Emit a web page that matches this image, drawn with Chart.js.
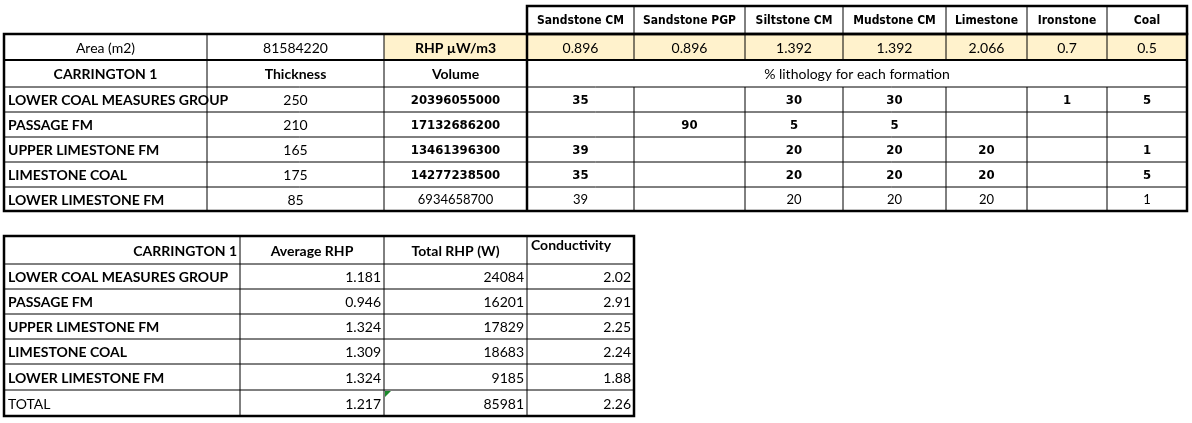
<!DOCTYPE html>
<html><head><meta charset="utf-8">
<script src="https://cdn.jsdelivr.net/npm/chart.js@4"></script>
<style>html,body{margin:0;padding:0;background:#fff}#w{width:1192px;height:423px}</style>
</head><body><div id="w"><canvas id="c"></canvas></div>
<script>
// ---- data ----
const formations = ["LOWER COAL MEASURES GROUP","PASSAGE FM","UPPER LIMESTONE FM","LIMESTONE COAL","LOWER LIMESTONE FM"];
const thickness = [250,210,165,175,85];
const volume = ["20396055000","17132686200","13461396300","14277238500","6934658700"];
const lithologies = ["Sandstone CM","Sandstone PGP","Siltstone CM","Mudstone CM","Limestone","Ironstone","Coal"];
const lithRHP = ["0.896","0.896","1.392","1.392","2.066","0.7","0.5"];
const lithPct = [
  ["35","","30","30","","1","5"],
  ["","90","5","5","","",""],
  ["39","","20","20","20","","1"],
  ["35","","20","20","20","","5"],
  ["39","","20","20","20","","1"]
];
const area = "81584220";
const avgRHP = ["1.181","0.946","1.324","1.309","1.324"];
const totalRHP = ["24084","16201","17829","18683","9185"];
const conductivity = ["2.02","2.91","2.25","2.24","1.88"];
const totals = ["1.217","85981","2.26"];

// ---- layout (grid coordinates in the scale's units) ----
const topCols = [4,207,384,527,634,745,843,946,1027,1107,1187];
const topRows = [6,34,60,87,112,137,162,187,211];
const botCols = [4,240,384,527,634];
const botRows = [236,264,289,314,339,364,390,416];
const COND = '"DejaVu Sans Condensed","Liberation Sans Narrow",Lato,sans-serif';
const BASE = 'Lato,"Open Sans",Arial,sans-serif';

const tablePlugin = {
  id:'tables',
  afterDraw(chart){
    const ctx = chart.ctx, X=v=>chart.scales.x.getPixelForValue(v), Y=v=>chart.scales.y.getPixelForValue(v);
    function fill(x0,y0,x1,y1,c){ctx.fillStyle=c;ctx.fillRect(X(x0),Y(y0),X(x1)-X(x0),Y(y1)-Y(y0));}
    function line(x0,y0,x1,y1,w){ctx.strokeStyle='#000';ctx.lineWidth=w;ctx.beginPath();ctx.moveTo(X(x0),Y(y0));ctx.lineTo(X(x1),Y(y1));ctx.stroke();}
    function box(x0,y0,x1,y1,w){ctx.strokeStyle='#000';ctx.lineWidth=w;ctx.strokeRect(X(x0),Y(y0),X(x1)-X(x0),Y(y1)-Y(y0));}
    function text(s,x0,x1,y0,y1,align,bold,size,family,vpos){
      ctx.fillStyle='#000';ctx.font=(bold?'bold ':'')+(size||14)+'px '+(family||BASE);
      ctx.textBaseline='middle';let x;
      if(align==='left'){ctx.textAlign='left';x=X(x0)+4;}
      else if(align==='right'){ctx.textAlign='right';x=X(x1)-3;}
      else {ctx.textAlign='center';x=(X(x0)+X(x1))/2;}
      const y = vpos==='top' ? Y(y0)+9 : (Y(y0)+Y(y1))/2+1;
      ctx.fillText(s,x,y);
    }
    // ---- top table ----
    fill(384,34,1187,60,'#FFF2CC');
    for(let r=1;r<topRows.length;r++) line(4,topRows[r],1187,topRows[r],1);
    line(527,topRows[0],1187,topRows[0],1);
    for(let c=0;c<topCols.length;c++){
      const x=topCols[c];
      if(c>=3) line(x,6,x,34,1);
      if(c<=3 || c===topCols.length-1) line(x,34,x,211,1);
      else { line(x,34,x,60,1); line(x,87,x,211,1); }
    }
    box(527,6,1187,34,2.5); box(4,34,1187,211,2.5); line(527,34,527,211,2.5);
    line(4,60,1187,60,2);
    lithologies.forEach((s,i)=>text(s,topCols[i+3],topCols[i+4],6,34,'center',true,12,COND));
    text("Area (m2)",4,207,34,60,'center',false);
    text(area,207,384,34,60,'center',false);
    text("RHP \u00b5W/m3",384,527,34,60,'center',true);
    lithRHP.forEach((s,i)=>text(s,topCols[i+3],topCols[i+4],34,60,'center',false));
    text("CARRINGTON 1",4,207,60,87,'center',true);
    text("Thickness",207,384,60,87,'center',true);
    text("Volume",384,527,60,87,'center',true);
    text("% lithology for each formation",527,1187,60,87,'center',false);
    formations.forEach((f,r)=>{
      const y0=topRows[r+3],y1=topRows[r+4],b=r<4;
      text(f,4,207,y0,y1,'left',true);
      text(String(thickness[r]),207,384,y0,y1,'center',false);
      text(volume[r],384,527,y0,y1,'center',b,13,b?COND:null);
      lithPct[r].forEach((s,i)=>{ if(s) text(s,topCols[i+3],topCols[i+4],y0,y1,'center',b,13,b?COND:null); });
    });
    // ---- bottom table ----
    for(let r=1;r<botRows.length-1;r++) line(4,botRows[r],634,botRows[r],1);
    botCols.forEach(x=>line(x,236,x,416,1));
    box(4,236,634,416,2.5);
    text("CARRINGTON 1",4,240,236,264,'right',true);
    text("Average RHP",240,384,236,264,'center',true);
    text("Total RHP (W)",384,527,236,264,'center',true);
    text("Conductivity",527,634,236,264,'left',true,14,null,'top');
    formations.forEach((f,r)=>{
      const y0=botRows[r+1],y1=botRows[r+2];
      text(f,4,240,y0,y1,'left',true);
      text(avgRHP[r],240,384,y0,y1,'right',false);
      text(totalRHP[r],384,527,y0,y1,'right',false);
      text(conductivity[r],527,634,y0,y1,'right',false);
    });
    text("TOTAL",4,240,390,416,'left',false);
    text(totals[0],240,384,390,416,'right',false);
    text(totals[1],384,527,390,416,'right',false);
    text(totals[2],527,634,390,416,'right',false);
    ctx.fillStyle='#1a8a2a';ctx.beginPath();ctx.moveTo(X(385),Y(391));ctx.lineTo(X(391),Y(391));ctx.lineTo(X(385),Y(397));ctx.fill();
  }
};

new Chart(document.getElementById('c'),{
  type:'scatter',
  data:{datasets:[{data:[],showLine:false}]},
  options:{responsive:true,maintainAspectRatio:false,animation:false,
    layout:{padding:0},
    plugins:{legend:{display:false},tooltip:{enabled:false}},
    scales:{
      x:{type:'linear',min:0,max:1192,display:false},
      y:{type:'linear',min:0,max:423,reverse:true,display:false}
    }},
  plugins:[tablePlugin]
});
</script></body></html>
